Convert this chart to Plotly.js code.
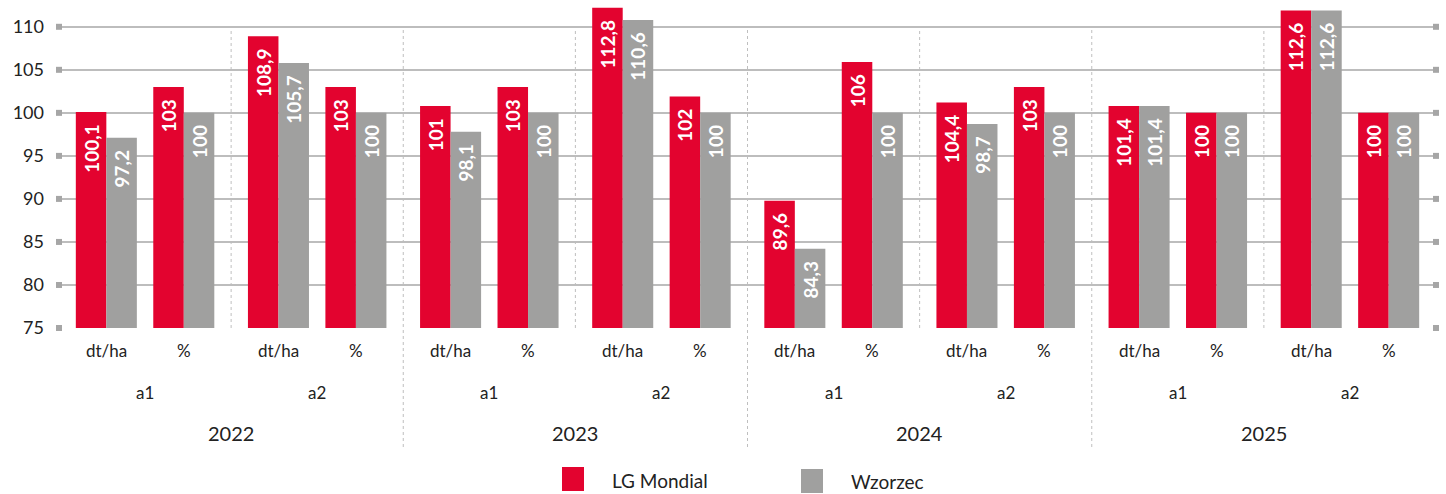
<!DOCTYPE html>
<html><head><meta charset="utf-8">
<script src="https://cdn.plot.ly/plotly-3.0.1.min.js"></script>
<style>html,body{margin:0;padding:0;background:#fff}#chart{width:1446px;height:494px}</style>
</head><body><div id="chart"></div>
<script>
// ---- data ----
const years = ['2022', '2023', '2024', '2025'];
const groups = ['a1', 'a2'];
const units = ['dt/ha', '%'];
const seriesNames = ['LG Mondial', 'Wzorzec'];
// bar heights as drawn in the picture
const lgMondial = [100.1, 103, 108.9, 103, 100.8, 103, 112.2, 101.9, 89.8, 105.9, 101.2, 103, 100.8, 100, 111.9, 100];
const wzorzec   = [97.1, 100, 105.8, 100, 97.8, 100, 110.8, 100, 84.2, 100, 98.7, 100, 100.8, 100, 111.9, 100];
// data labels as printed
const lgLabels = ['100,1', '103', '108,9', '103', '101', '103', '112,8', '102', '89,6', '106', '104,4', '103', '101,4', '100', '112,6', '100'];
const wzLabels = ['97,2', '100', '105,7', '100', '98,1', '100', '110,6', '100', '84,3', '100', '98,7', '100', '101,4', '100', '112,6', '100'];
const yTicks = [75, 80, 85, 90, 95, 100, 105, 110];

// ---- layout helpers ----
const RED = '#E3032F', GRAY = '#A0A09F', TXT = '#222222', FONT = 'Lato, "Open Sans", sans-serif';
const yMin = 75, yMax = 112.3;
const nGroups = years.length * groups.length;
const halfSep = 0.225, barW = 0.1773;
const xPos = [];
for (let g = 0; g < nGroups; g++) {
  for (let u = 0; u < units.length; u++) xPos.push(g + 0.5 + (u === 0 ? -halfSep : halfSep));
}
const pad = s => s + '\u00a0\u00a0';

const barCommon = {
  type: 'bar', x: xPos, width: barW, textposition: 'inside', insidetextanchor: 'end',
  textangle: -90, constraintext: 'none', hoverinfo: 'skip', showlegend: false,
  insidetextfont: {family: FONT, size: 19, color: '#ffffff', weight: 700},
  textfont: {family: FONT, size: 19, color: '#ffffff', weight: 700}
};
const traces = [
  Object.assign({}, barCommon, {name: seriesNames[0], y: lgMondial, offset: -barW, marker: {color: RED, line: {width: 0}}, text: lgLabels.map(pad)}),
  Object.assign({}, barCommon, {name: seriesNames[1], y: wzorzec, offset: 0, marker: {color: GRAY, line: {width: 0}}, text: wzLabels.map(pad)}),
  {type: 'scatter', mode: 'markers', x: yTicks.map(() => 0).concat(yTicks.map(() => nGroups)), y: yTicks.concat(yTicks),
   marker: {symbol: 'square', size: 6, color: '#A6A6A6'}, cliponaxis: false, hoverinfo: 'skip', showlegend: false}
];

const plotTopPx = 7, plotBotPx = 328, plotH = plotBotPx - plotTopPx;
const pxToPaper = py => (plotBotPx - py) / plotH;
const y110 = (110 - yMin) / (yMax - yMin);

const shapes = [];
for (let k = 1; k < nGroups; k++) {
  const isYear = k % groups.length === 0;
  shapes.push({type: 'line', xref: 'x', yref: 'paper', x0: k, x1: k, y0: isYear ? pxToPaper(447) : 0, y1: y110,
    line: {color: '#BFBFBF', width: 1, dash: 'dot'}, layer: 'below'});
}
const annotations = [];
// unit labels
xPos.forEach((x, i) => annotations.push({xref: 'x', yref: 'paper', x: x, y: 0, yanchor: 'middle', yshift: -22,
  text: units[i % units.length], showarrow: false, font: {family: FONT, size: 17, color: TXT}}));
// group labels
for (let g = 0; g < nGroups; g++) annotations.push({xref: 'x', yref: 'paper', x: g + 0.5, y: 0, yanchor: 'middle', yshift: -64,
  text: groups[g % groups.length], showarrow: false, font: {family: FONT, size: 17, color: TXT}});
// year labels
years.forEach((yr, i) => annotations.push({xref: 'x', yref: 'paper', x: i * groups.length + groups.length / 2, y: 0, yanchor: 'middle', yshift: -105,
  text: yr, showarrow: false, font: {family: FONT, size: 20, color: TXT}}));

// legend (drawn)
const plotLeft = 59, plotW = 1377;
const pxX = px => (px - plotLeft) / plotW;
const legendItems = [
  {name: seriesNames[0], color: RED, sq: [562, 584, 467, 491], tx: 610, ty: 480},
  {name: seriesNames[1], color: GRAY, sq: [801, 823, 469, 493], tx: 849, ty: 481}
];
legendItems.forEach(it => {
  shapes.push({type: 'rect', xref: 'paper', yref: 'paper', x0: pxX(it.sq[0]), x1: pxX(it.sq[1]), y0: pxToPaper(it.sq[3]), y1: pxToPaper(it.sq[2]),
    fillcolor: it.color, line: {width: 0}});
  annotations.push({xref: 'paper', yref: 'paper', x: pxX(it.tx), y: pxToPaper(it.ty), xanchor: 'left', yanchor: 'middle',
    text: it.name, showarrow: false, font: {family: FONT, size: 19, color: TXT}});
});

const layout = {
  width: 1446, height: 494,
  margin: {l: plotLeft, r: 1446 - plotLeft - plotW, t: plotTopPx, b: 494 - plotBotPx},
  paper_bgcolor: '#ffffff', plot_bgcolor: '#ffffff',
  barmode: 'overlay', showlegend: false,
  xaxis: {range: [0, nGroups], showgrid: false, zeroline: false, showticklabels: false, ticks: '', fixedrange: true},
  yaxis: {range: [yMin, yMax], tickvals: yTicks, ticktext: yTicks.map(String), showgrid: true, gridcolor: '#BDBDBD', gridwidth: 2,
    zeroline: false, showline: false, ticks: '', ticklabelstandoff: 14,
    tickfont: {family: FONT, size: 18, color: TXT}, fixedrange: true},
  shapes: shapes, annotations: annotations,
  font: {family: FONT, color: TXT}
};
Plotly.newPlot('chart', traces, layout, {displayModeBar: false, staticPlot: true});
</script></body></html>
